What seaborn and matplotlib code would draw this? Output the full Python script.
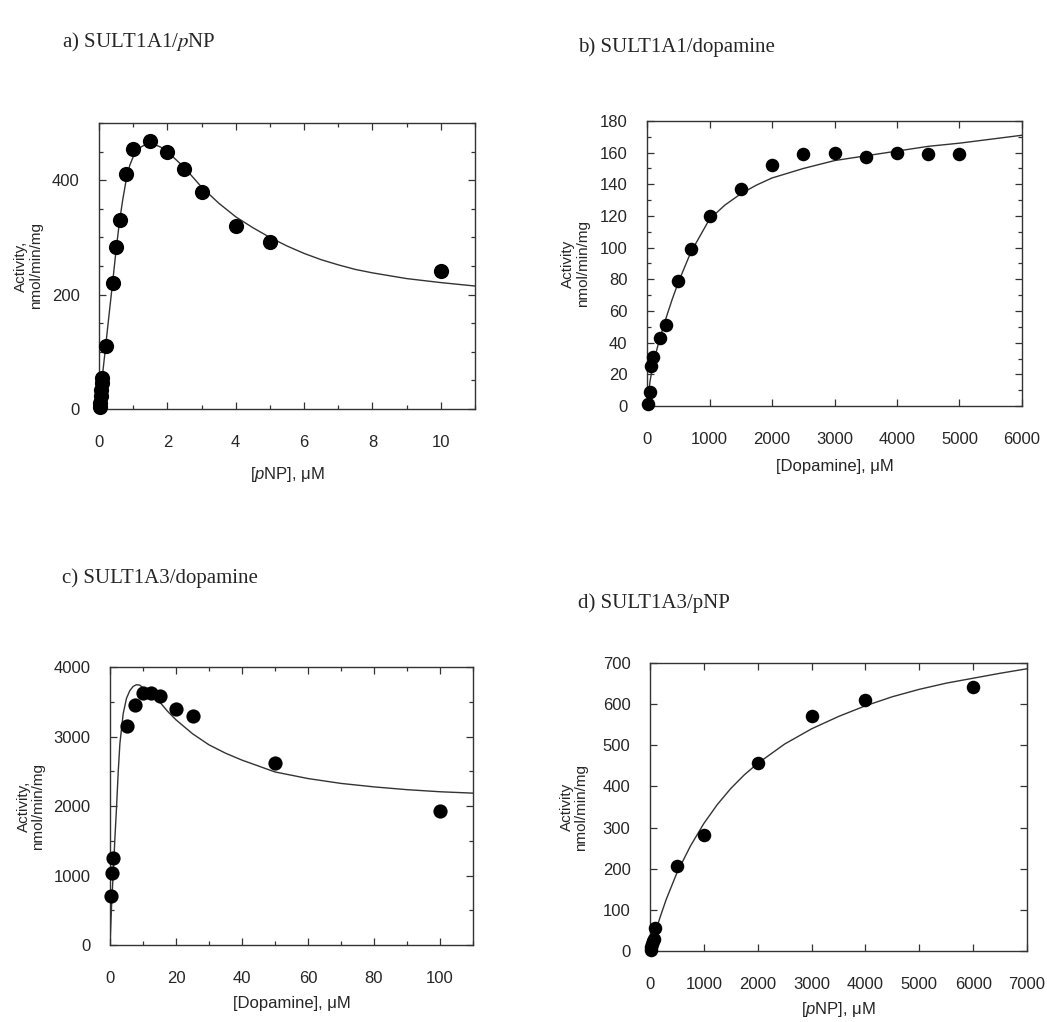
import pandas as pd
import matplotlib
matplotlib.use("Agg")
import matplotlib.pyplot as plt
from matplotlib.ticker import MultipleLocator
import seaborn as sns

sns.set_style("ticks")
plt.rcParams["font.family"] = ["Liberation Sans", "DejaVu Sans"]
plt.rcParams["mathtext.fontset"] = "custom"
plt.rcParams["mathtext.rm"] = "Liberation Sans"
plt.rcParams["mathtext.it"] = "Liberation Sans:italic"

# a) SULT1A1 / pNP  (uM, nmol/min/mg)
a_conc = [0.02, 0.03, 0.05, 0.06, 0.08, 0.1, 0.2, 0.4, 0.5, 0.6, 0.8, 1.0,
          1.5, 2.0, 2.5, 3.0, 4.0, 5.0, 10.0]
a_act = [3, 10, 22, 33, 45, 54, 111, 221, 284, 330, 410, 454,
         469, 450, 420, 380, 320, 292, 242]
a_fit_x = [0, 0.05, 0.1, 0.2, 0.3, 0.4, 0.5, 0.6, 0.7, 0.8, 0.9, 1.0, 1.2,
           1.4, 1.6, 1.8, 2.0, 2.5, 3.0, 3.5, 4.0, 4.5, 5.0, 5.5, 6.0, 6.5,
           7.0, 7.5, 8.0, 9.0, 10.0, 11.0]
a_fit_y = [0, 30, 58, 113, 168, 222, 278, 328, 368, 402, 426, 441, 457,
           464, 463, 458, 450, 422, 388, 360, 336, 317, 300, 285, 272, 261,
           252, 244, 238, 228, 221, 215]

# b) SULT1A1 / dopamine
b_conc = [10, 50, 60, 100, 200, 300, 500, 700, 1000, 1500, 2000, 2500,
          3000, 3500, 4000, 4500, 5000]
b_act = [1, 9, 25, 31, 43, 51, 79, 99, 120, 137, 152, 159,
         160, 157, 160, 159, 159]
b_fit_x = [0, 50, 100, 200, 300, 400, 500, 700, 1000, 1250, 1500, 1750,
           2000, 2500, 3000, 3500, 4000, 4500, 5000, 5500, 6000]
b_fit_y = [0, 16, 27, 42, 55, 67, 78, 97, 118, 127, 134, 139.5, 144, 150,
           155, 158, 161, 164, 166, 168.5, 171]

# c) SULT1A3 / dopamine
c_conc = [0.25, 0.5, 1.0, 5.0, 7.5, 10.0, 12.5, 15.0, 20.0, 25.0, 50.0, 100.0]
c_act = [700, 1040, 1250, 3150, 3460, 3630, 3630, 3580, 3390, 3300, 2620, 1925]
c_fit_x = [0, 0.5, 1, 1.5, 2, 2.5, 3, 4, 5, 6, 7, 8, 9, 10, 12, 15, 17.5,
           20, 25, 30, 35, 40, 50, 60, 70, 80, 90, 100, 110]
c_fit_y = [0, 600, 1050, 1550, 2000, 2500, 2900, 3330, 3550, 3660, 3720,
           3745, 3740, 3700, 3620, 3500, 3360, 3240, 3040, 2880, 2760, 2660,
           2490, 2395, 2325, 2275, 2235, 2205, 2185]

# d) SULT1A3 / pNP
d_conc = [10, 20, 30, 50, 70, 100, 500, 1000, 2000, 3000, 4000, 6000]
d_act = [2, 10, 17, 24, 30, 55, 206, 281, 456, 571, 610, 642]
d_fit_x = [0, 50, 100, 200, 300, 500, 750, 1000, 1250, 1500, 1750, 2000,
           2500, 3000, 3500, 4000, 4500, 5000, 5500, 6000, 6500, 7000]
d_fit_y = [0, 24, 47, 87, 125, 190, 255, 310, 356, 395, 428, 456, 503, 540,
           570, 596, 618, 636, 651, 663, 675, 686]

W, H = 1047, 1022
fig = plt.figure(figsize=(W / 100, H / 100), dpi=100)


def box(left, top, right, bottom):
    return [left / W, 1 - bottom / H, (right - left) / W, (bottom - top) / H]


def panel(rect, conc, act, fit_x, fit_y, xlim, ylim, xmaj, xmin, ymaj, ymin,
          xlabel, ylabel, ylab_x, xlab_y, ms):
    ax = fig.add_axes(rect)
    sns.lineplot(x=fit_x, y=fit_y, ax=ax, color="#333333", lw=1.0,
                 sort=False, estimator=None)
    sns.scatterplot(x=conc, y=act, ax=ax, color="black", s=ms,
                    edgecolor="black", linewidth=0, zorder=3, clip_on=False)
    ax.set_xlim(*xlim)
    ax.set_ylim(*ylim)
    ax.xaxis.set_major_locator(MultipleLocator(xmaj))
    ax.yaxis.set_major_locator(MultipleLocator(ymaj))
    if xmin:
        ax.xaxis.set_minor_locator(MultipleLocator(xmin))
    if ymin:
        ax.yaxis.set_minor_locator(MultipleLocator(ymin))
    ax.tick_params(which="both", direction="in", top=True, right=True,
                   color="#333333", width=0.9)
    ax.tick_params(which="major", length=5)
    ax.tick_params(which="minor", length=3)
    ax.tick_params(axis="x", pad=19, labelsize=12)
    ax.tick_params(axis="y", pad=14, labelsize=12)
    for sp in ax.spines.values():
        sp.set_linewidth(1.0)
        sp.set_color("#333333")
    ax.set_xlabel(xlabel, fontsize=12)
    ax.set_ylabel(ylabel, fontsize=11, linespacing=1.05)
    ax.xaxis.set_label_coords(0.5, xlab_y)
    ax.yaxis.set_label_coords(ylab_x, 0.5)
    return ax


panel(box(99, 123, 475, 409), a_conc, a_act, a_fit_x, a_fit_y, (0, 11),
      (0, 500), 2, 1, 200, 50, "[$p$NP], μM", "Activity,\nnmol/min/mg",
      -0.149, -0.195, 120)
panel(box(647, 121, 1022, 406), b_conc, b_act, b_fit_x, b_fit_y, (0, 6000),
      (0, 180), 1000, None, 20, 10, "[Dopamine], μM", "Activity\nnmol/min/mg",
      -0.152, -0.185, 95)
panel(box(110, 667, 473, 945), c_conc, c_act, c_fit_x, c_fit_y, (0, 110),
      (0, 4000), 20, 10, 1000, 500, "[Dopamine], μM", "Activity,\nnmol/min/mg",
      -0.179, -0.185, 105)
panel(box(650, 663, 1027, 951), d_conc, d_act, d_fit_x, d_fit_y, (0, 7000),
      (0, 700), 1000, None, 100, None, "[$p$NP], μM", "Activity\nnmol/min/mg",
      -0.164, -0.17, 95)

titles = ["a) SULT1A1/$p$NP", "b) SULT1A1/dopamine",
          "c) SULT1A3/dopamine", "d) SULT1A3/pNP"]
title_pos = [(62, 42), (578, 47), (62, 578), (578, 603)]
for t, (tx, ty) in zip(titles, title_pos):
    fig.text(tx / W, 1 - ty / H, t, fontsize=15, family="Liberation Serif",
             math_fontfamily="stix", ha="left", va="center")

fig.savefig("out.png", dpi=100)
